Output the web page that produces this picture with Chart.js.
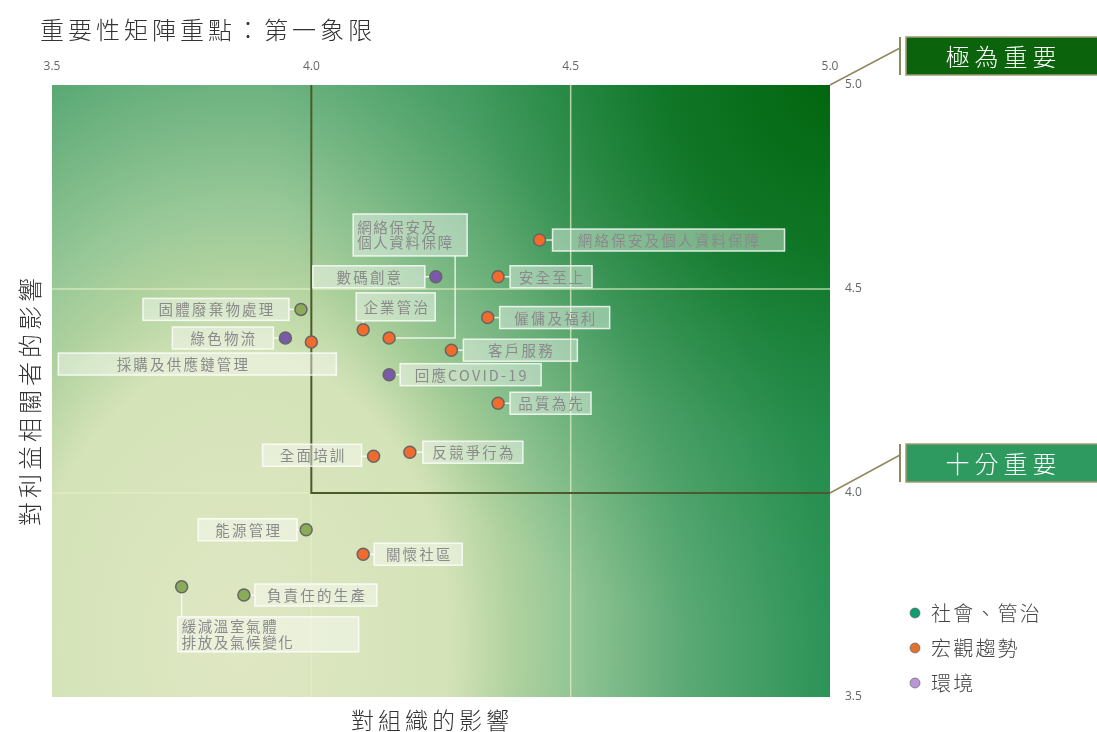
<!DOCTYPE html>
<html><head><meta charset="utf-8">
<script src="https://cdn.jsdelivr.net/npm/chart.js@4.4.1/dist/chart.umd.min.js"></script>
<style>html,body{margin:0;padding:0;background:#fff;overflow:hidden}#wrap{position:relative;width:1097px;height:732px}</style>
</head><body><div id="wrap"><canvas id="c" width="1097" height="732"></canvas></div>
<script>
// ---- data ----
const xTicks = [3.5, 4.0, 4.5, 5.0];
const yTicks = [3.5, 4.0, 4.5, 5.0];
const orangeTopics = ['網絡保安及個人資料保障','安全至上','僱傭及福利','企業管治','網絡保安及\n個人資料保障','客戶服務','採購及供應鏈管理','品質為先','全面培訓','反競爭行為','關懷社區'];
const orangeX = [4.44, 4.36, 4.34, 4.10, 4.15, 4.27, 4.00, 4.36, 4.12, 4.19, 4.10];
const orangeY = [4.62, 4.53, 4.43, 4.40, 4.38, 4.35, 4.37, 4.22, 4.09, 4.10, 3.85];
const greenTopics = ['固體廢棄物處理','能源管理','負責任的生產','緩減溫室氣體\n排放及氣候變化'];
const greenX = [3.98, 3.99, 3.87, 3.75];
const greenY = [4.45, 3.91, 3.75, 3.77];
const purpleTopics = ['數碼創意','綠色物流','回應COVID-19'];
const purpleX = [4.24, 3.95, 4.15];
const purpleY = [4.53, 4.38, 4.29];
const legendNames = ['社會、管治','宏觀趨勢','環境'];
const legendColors = ['#129c6f','#e0722e','#b896d8'];
const levelNames = ['極為重要','十分重要'];
const levelValues = [5.0, 4.0];
const titleText = '重要性矩陣重點：第一象限';
const xTitle = '對組織的影響';
const yTitle = '對利益相關者的影響';

// ---- label layout (pixel offsets from the point) ----
const labelLayout = {
  '網絡保安及個人資料保障': {dx:13, dy:-11, w:232, h:22},
  '安全至上': {dx:12, dy:-11, w:82, h:22},
  '僱傭及福利': {dx:12, dy:-11, w:110, h:22},
  '企業管治': {dx:-7, dy:-37, w:79, h:28, leader:[[0,-9]]},
  '網絡保安及\n個人資料保障': {dx:-36, dy:-124, w:114, h:42, align:'left', leader:[[66,0],[66,-82]]},
  '客戶服務': {dx:12, dy:-11, w:114, h:22},
  '採購及供應鏈管理': {dx:-253, dy:11, w:278, h:22, tx:-15, noLeader:true},
  '品質為先': {dx:12, dy:-11, w:81, h:22},
  '全面培訓': {dx:-111, dy:-12, w:99, h:22},
  '反競爭行為': {dx:13, dy:-11, w:100, h:22},
  '關懷社區': {dx:11, dy:-11, w:88, h:22},
  '固體廢棄物處理': {dx:-158, dy:-11, w:146, h:22},
  '能源管理': {dx:-108, dy:-11, w:99, h:22},
  '負責任的生產': {dx:11, dy:-11, w:122, h:22},
  '緩減溫室氣體\n排放及氣候變化': {dx:-4, dy:30, w:181, h:35, align:'left', leader:[[0,30]]},
  '數碼創意': {dx:-123, dy:-11, w:112, h:22},
  '綠色物流': {dx:-113, dy:-11, w:101, h:22},
  '回應COVID-19': {dx:11, dy:-11, w:141, h:22}
};

const CJK = '"Noto Sans CJK TC","Noto Sans CJK SC",sans-serif';

function pts(xs, ys, names){ return xs.map((x,i)=>({x:x, y:ys[i], name:names[i]})); }

function spacedText(ctx, text, x, y, align, spacing){
  ctx.letterSpacing = spacing + 'px';
  const w = ctx.measureText(text).width - spacing;
  let sx = x;
  if (align === 'center') sx = x - w/2;
  else if (align === 'right') sx = x - w;
  ctx.textAlign = 'left';
  ctx.fillText(text, sx, y);
  ctx.letterSpacing = '0px';
}

const bgPlugin = {
  id: 'bg',
  beforeDraw(chart){
    const {ctx, chartArea:a} = chart;
    ctx.save();
    ctx.beginPath(); ctx.rect(a.left, a.top, a.right-a.left, a.bottom-a.top); ctx.clip();
    // light glow from the lower left
    ctx.save();
    ctx.translate(a.left + 188, a.bottom - 57);
    ctx.scale(1, 1.35);
    const g = ctx.createRadialGradient(0,0,0,0,0,700);
    g.addColorStop(0, '#dfe7c3');
    g.addColorStop(0.3, '#d4e3b8');
    g.addColorStop(0.39, '#b0d29e');
    g.addColorStop(0.46, '#98c898');
    g.addColorStop(0.64, '#5aa975');
    g.addColorStop(0.83, '#2e9458');
    g.addColorStop(1, '#1e8a48');
    ctx.fillStyle = g;
    ctx.fillRect(-2000,-2000,4000,4000);
    ctx.restore();
    // deep green toward the top right
    const g2 = ctx.createRadialGradient(a.right, a.top, 0, a.right, a.top, 560);
    g2.addColorStop(0, 'rgba(3,102,15,1)');
    g2.addColorStop(0.3, 'rgba(8,110,25,0.75)');
    g2.addColorStop(0.65, 'rgba(20,125,50,0.25)');
    g2.addColorStop(1, 'rgba(30,140,70,0)');
    ctx.fillStyle = g2;
    ctx.fillRect(a.left, a.top, a.right-a.left, a.bottom-a.top);
    ctx.restore();
  },
  beforeDatasetsDraw(chart){
    const {ctx, chartArea:a, scales:{x, y}} = chart;
    const x4 = x.getPixelForValue(4.0), x45 = x.getPixelForValue(4.5);
    const y4 = y.getPixelForValue(4.0), y45 = y.getPixelForValue(4.5);
    ctx.save();
    ctx.strokeStyle = 'rgba(225,238,195,0.75)';
    ctx.lineWidth = 1.5;
    ctx.beginPath();
    ctx.moveTo(x45, a.top); ctx.lineTo(x45, a.bottom);
    ctx.moveTo(a.left, y45); ctx.lineTo(a.right, y45);
    ctx.moveTo(a.left, y4); ctx.lineTo(x4, y4);
    ctx.moveTo(x4, y4); ctx.lineTo(x4, a.bottom);
    ctx.stroke();
    ctx.strokeStyle = '#4b5a2a';
    ctx.lineWidth = 2;
    ctx.beginPath();
    ctx.moveTo(x4, a.top); ctx.lineTo(x4, y4); ctx.lineTo(a.right, y4);
    ctx.stroke();

    // labels
    chart.data.datasets.forEach((ds, di) => {
      const meta = chart.getDatasetMeta(di);
      ds.data.forEach((p, i) => {
        const L = labelLayout[p.name]; if (!L) return;
        const px = meta.data[i].x, py = meta.data[i].y;
        const bx = px + L.dx, by = py + L.dy;
        ctx.strokeStyle = 'rgba(255,255,255,0.8)';
        ctx.lineWidth = 1.5;
        if (!L.noLeader) {
          ctx.beginPath(); ctx.moveTo(px, py);
          if (L.leader) L.leader.forEach(([lx,ly]) => ctx.lineTo(px+lx, py+ly));
          else ctx.lineTo(L.dx > 0 ? bx : bx + L.w, py);
          ctx.stroke();
        }
        ctx.fillStyle = 'rgba(255,255,255,0.42)';
        ctx.fillRect(bx, by, L.w, L.h);
        ctx.strokeStyle = 'rgba(255,255,255,0.8)';
        ctx.strokeRect(bx, by, L.w, L.h);
        ctx.fillStyle = '#8a8a8a';
        ctx.font = '14.5px ' + CJK;
        ctx.textBaseline = 'middle';
        const lines = p.name.split('\n');
        if (L.align === 'left') {
          const lh = 15.5;
          const cy = by + L.h/2 - (lines.length-1)*lh/2;
          lines.forEach((t, k) => spacedText(ctx, t, bx + 4, cy + k*lh, 'left', 1.6));
        } else {
          spacedText(ctx, lines[0], bx + L.w/2 + (L.tx||0), by + L.h/2 + 0.5, 'center', 2.2);
        }
      });
    });
    ctx.restore();
  },
  afterDraw(chart){
    const {ctx, chartArea:a, scales:{y}} = chart;
    ctx.save();
    ctx.textBaseline = 'middle';
    // title
    ctx.fillStyle = '#333';
    ctx.font = '300 24px ' + CJK;
    spacedText(ctx, titleText, 40, 30, 'left', 4);
    // x title
    ctx.font = '300 23px ' + CJK;
    spacedText(ctx, xTitle, 430, 720, 'center', 4);
    // y title
    ctx.save();
    ctx.translate(30, 402); ctx.rotate(-Math.PI/2);
    ctx.font = '300 24px ' + CJK;
    spacedText(ctx, yTitle, 0, 0, 'center', 4);
    ctx.restore();
    // legend
    legendNames.forEach((n, i) => {
      const ly = 613 + i*35;
      ctx.beginPath(); ctx.arc(915, ly, 5, 0, Math.PI*2);
      ctx.fillStyle = legendColors[i]; ctx.fill();
      ctx.strokeStyle = 'rgba(90,90,90,0.6)'; ctx.lineWidth = 1; ctx.stroke();
      ctx.fillStyle = '#444';
      ctx.font = '300 20px ' + CJK;
      spacedText(ctx, n, 931, ly, 'left', 2.2);
    });
    // level boxes
    const fills = ['#0b640c', '#2f9a5f'];
    levelNames.forEach((n, i) => {
      const yy = y.getPixelForValue(levelValues[i]);
      const top = i === 0 ? 37 : 444;
      const h = 38;
      ctx.strokeStyle = '#8f8a5e'; ctx.lineWidth = 1.5;
      ctx.beginPath(); ctx.moveTo(a.right, yy); ctx.lineTo(900, top + 11); ctx.stroke();
      ctx.lineWidth = 2;
      ctx.beginPath(); ctx.moveTo(900, top); ctx.lineTo(900, top + h); ctx.stroke();
      ctx.fillStyle = fills[i];
      ctx.fillRect(906, top, 200, h);
      ctx.strokeStyle = '#a39a72'; ctx.lineWidth = 1.5;
      ctx.strokeRect(906, top, 200, h);
      ctx.fillStyle = '#fff';
      ctx.font = '300 24px ' + CJK;
      spacedText(ctx, n, 1001, top + h/2 + 1, 'center', 5);
    });
    ctx.restore();
  }
};

const common = {pointRadius: 6, pointHoverRadius: 6, pointBorderWidth: 1.5, pointBorderColor: '#666'};
new Chart(document.getElementById('c'), {
  type: 'scatter',
  data: {
    datasets: [
      Object.assign({label:'orange', data: pts(orangeX, orangeY, orangeTopics), pointBackgroundColor:'#f26a2c'}, common),
      Object.assign({label:'green', data: pts(greenX, greenY, greenTopics), pointBackgroundColor:'#8aab58'}, common),
      Object.assign({label:'purple', data: pts(purpleX, purpleY, purpleTopics), pointBackgroundColor:'#7a5aa8'}, common)
    ]
  },
  options: {
    responsive: false, animation: false, devicePixelRatio: 1,
    layout: {padding: {left: 52, right: 0, top: 0, bottom: 35}},
    plugins: {legend: {display: false}, tooltip: {enabled: false}},
    scales: {
      x: {
        type: 'linear', position: 'top', min: 3.5, max: 5.0,
        afterBuildTicks: s => { s.ticks = xTicks.map(v => ({value: v})); },
        afterFit: s => { s.height = 85; },
        ticks: {callback: v => Number(v).toFixed(1), color: '#666', font: {size: 12, family: '"Open Sans",sans-serif'}, padding: 11, maxRotation: 0, autoSkip: false},
        grid: {display: false, drawTicks: false}, border: {display: false}
      },
      y: {
        type: 'linear', position: 'right', min: 3.5, max: 5.0,
        afterBuildTicks: s => { s.ticks = yTicks.map(v => ({value: v})); },
        afterFit: s => { s.width = 267; },
        ticks: {callback: v => Number(v).toFixed(1), color: '#666', font: {size: 12, family: '"Open Sans",sans-serif'}, padding: 15, autoSkip: false},
        grid: {display: false, drawTicks: false}, border: {display: false}
      }
    }
  },
  plugins: [bgPlugin]
});
</script>
</body></html>
